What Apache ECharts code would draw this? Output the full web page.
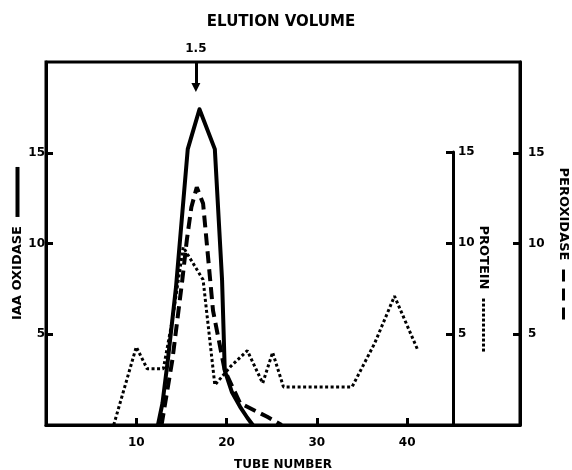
<!DOCTYPE html>
<html>
<head>
<meta charset="utf-8">
<script src="https://cdn.jsdelivr.net/npm/echarts@6/dist/echarts.min.js"></script>
<style>html,body{margin:0;padding:0;background:#fff;}#c{width:572px;height:470px;}</style>
</head>
<body>
<div id="c"></div>
<script>
// ---- data ----
const tubeTicks = [10, 20, 30, 40];
const activityTicks = [5, 10, 15];
const proteinTicks = [5, 10, 15];

const iaaTube  = [12.4, 12.9, 13.5, 14.4, 15.7, 17.0, 18.7, 19.5, 19.8, 20.6, 21.5, 22.3, 22.9];
const iaaValue = [0,    1.2,  3.6,  7.6,  15.2, 17.4, 15.2, 8.0,  3.0,  1.8,  1.0,  0.4,  0];

const peroxTube  = [12.8, 14.0, 15.1, 15.6, 16.1, 16.7, 17.4, 18.5, 19.8, 21.5, 24.5, 26.1];
const peroxValue = [0,    3.6,  8.0,  10.2, 12.0, 13.1, 12.2, 6.3,  3.0,  1.2,  0.45, 0];

const proteinTube  = [7.5, 10.0, 11.2, 13.0, 14.0, 15.2, 17.4, 18.7, 20.4, 22.3, 24.0, 25.1, 26.3, 33.9, 36.4, 38.6, 41.2];
const proteinValue = [0,   4.3,  3.1,  3.1,  5.8,  9.8,  8.0,  2.2,  3.2,  4.1,  2.3,  4.0,  2.1,  2.1,  4.5,  7.1,  4.1];

const elutionMarkTube = 16.6;
const elutionMarkLabel = '1.5';

// ---- chart ----
const zip = (a, b) => a.map((v, i) => [v, b[i]]);
const FONT = 'DejaVu Sans';
const txt = (size) => ({ fontFamily: FONT, fontSize: size, fontWeight: 'bold', color: '#000' });

const dots = Array(11).fill('{p|}').join('{s|}');

const chart = echarts.init(document.getElementById('c'), null, { renderer: 'canvas' });
chart.setOption({
  animation: false,
  backgroundColor: '#fff',
  title: {
    text: 'ELUTION VOLUME', left: 276, textAlign: 'center', top: 10,
    textStyle: txt(15)
  },
  grid: [
    { left: 46, right: 52, top: 62, bottom: 45, show: true, borderColor: '#000', borderWidth: 3, outerBoundsMode: 'none', containLabel: false },
    { left: 400, right: 119, top: 152, bottom: 45, outerBoundsMode: 'none', containLabel: false }
  ],
  xAxis: [
    {
      type: 'value', gridIndex: 0, min: 0, max: 52.5,
      name: 'TUBE NUMBER', nameLocation: 'middle', nameGap: 34, nameMoveOverlap: false, nameTextStyle: txt(12),
      axisLine: { lineStyle: { color: '#000', width: 3 } },
      axisTick: { inside: true, length: 7, customValues: tubeTicks, lineStyle: { color: '#000', width: 3 } },
      axisLabel: { customValues: tubeTicks, margin: 12, ...txt(12) },
      splitLine: { show: false }
    },
    { type: 'value', gridIndex: 1, min: 0, max: 1, show: false }
  ],
  yAxis: [
    {
      type: 'value', gridIndex: 0, position: 'left', min: 0, max: 20, interval: 5,
      name: 'IAA OXIDASE  {ln|}', nameLocation: 'middle', nameRotate: 90, nameGap: 22, nameMoveOverlap: false,
      nameTextStyle: { ...txt(13), rich: { ln: { width: 50, height: 4, backgroundColor: '#000', verticalAlign: 'middle' } } },
      axisLine: { show: true, onZero: false, lineStyle: { color: '#000', width: 3 } },
      axisTick: { show: true, inside: true, length: 7, customValues: activityTicks, lineStyle: { color: '#000', width: 3 } },
      axisLabel: { customValues: activityTicks, margin: 1, ...txt(12) },
      splitLine: { show: false }
    },
    {
      type: 'value', gridIndex: 0, position: 'right', min: 0, max: 20, interval: 5,
      name: 'PEROXIDASE  {d|}{g|}{d|}{g|}{d|}', nameLocation: 'middle', nameRotate: -90, nameGap: 37, nameMoveOverlap: false,
      nameTextStyle: { ...txt(13), rich: {
        d: { width: 12, height: 3, backgroundColor: '#000', verticalAlign: 'middle' },
        g: { width: 7, height: 3 }
      } },
      axisLine: { show: true, onZero: false, lineStyle: { color: '#000', width: 3 } },
      axisTick: { show: true, inside: true, length: 7, customValues: activityTicks, lineStyle: { color: '#000', width: 3 } },
      axisLabel: { customValues: activityTicks, margin: 8, ...txt(12) },
      splitLine: { show: false }
    },
    {
      type: 'value', gridIndex: 1, position: 'right', min: 0, max: 15, interval: 5,
      name: 'PROTEIN  ' + dots, nameLocation: 'middle', nameRotate: -90, nameGap: 24, nameMoveOverlap: false,
      nameTextStyle: { ...txt(13), rich: {
        p: { width: 3, height: 3, backgroundColor: '#000', verticalAlign: 'middle' },
        s: { width: 2, height: 3 }
      } },
      axisLine: { show: true, onZero: false, lineStyle: { color: '#000', width: 3 } },
      axisTick: { show: true, inside: true, length: 7, customValues: proteinTicks, lineStyle: { color: '#000', width: 3 } },
      axisLabel: { customValues: proteinTicks, margin: 5, ...txt(12) },
      splitLine: { show: false }
    }
  ],
  series: [
    {
      name: 'IAA oxidase', type: 'line', xAxisIndex: 0, yAxisIndex: 0,
      data: zip(iaaTube, iaaValue), symbol: 'none', smooth: false,
      lineStyle: { color: '#000', width: 4, join: 'round', cap: 'round' },
      markLine: {
        silent: true, symbol: ['none', 'triangle'], symbolSize: [9, 9],
        lineStyle: { color: '#000', width: 3, type: 'solid' },
        label: { show: true, position: 'start', distance: 7, formatter: elutionMarkLabel, ...txt(12) },
        data: [[{ coord: [elutionMarkTube, 20] }, { coord: [elutionMarkTube, 18.6] }]]
      }
    },
    {
      name: 'Peroxidase', type: 'line', xAxisIndex: 0, yAxisIndex: 1,
      data: zip(peroxTube, peroxValue), symbol: 'none', smooth: false,
      lineStyle: { color: '#000', width: 4, type: [12, 6] }
    },
    {
      name: 'Protein', type: 'line', xAxisIndex: 0, yAxisIndex: 0,
      data: zip(proteinTube, proteinValue), symbol: 'none', smooth: false,
      lineStyle: { color: '#000', width: 3, type: [3, 2.5] }
    }
  ]
});
</script>
</body>
</html>
